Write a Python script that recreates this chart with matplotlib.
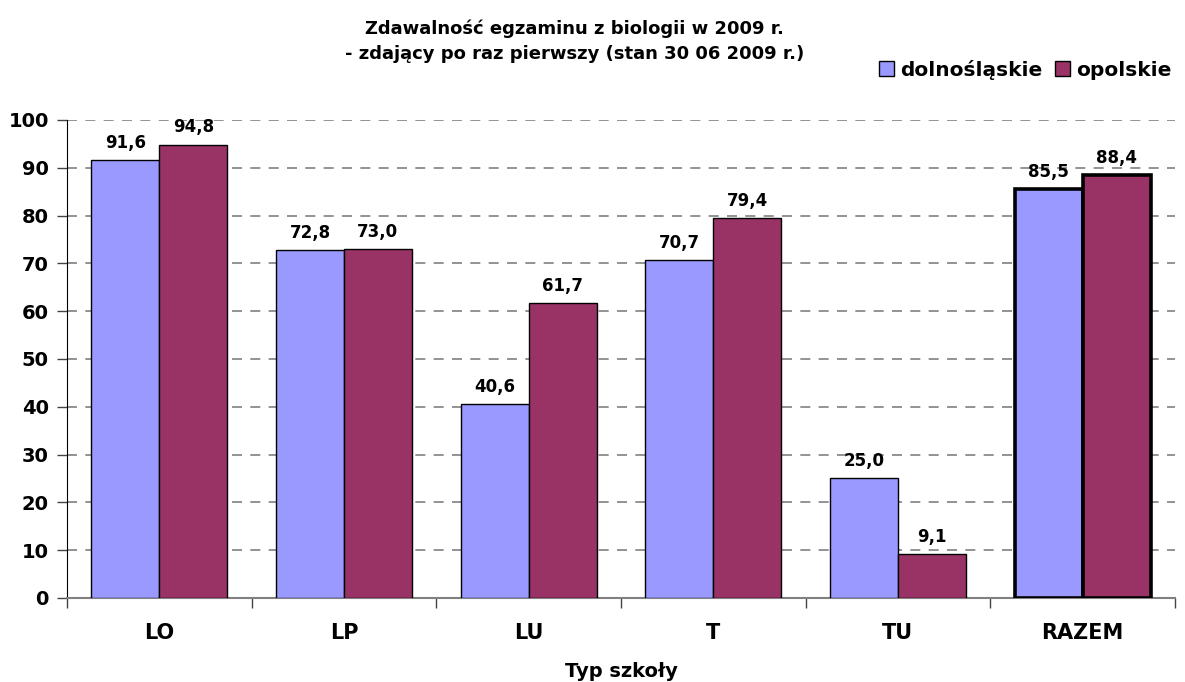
import numpy as np
import matplotlib.pyplot as plt

categories = ['LO', 'LP', 'LU', 'T', 'TU', 'RAZEM']
dolnoslaskie = [91.6, 72.8, 40.6, 70.7, 25.0, 85.5]
opolskie = [94.8, 73.0, 61.7, 79.4, 9.1, 88.4]
series_names = ['dolnośląskie', 'opolskie']

plt.rcParams['font.family'] = ['DejaVu Sans']
plt.rcParams['font.weight'] = 'bold'

fig = plt.figure(figsize=(11.85, 6.82), dpi=100)
ax = fig.add_axes([0.0565, 0.1232, 0.935, 0.7009])

x = np.arange(len(categories))
w = 0.368
blue = '#9999FF'
red = '#993366'

b1 = ax.bar(x - w/2, dolnoslaskie, w, color=blue, edgecolor='black', linewidth=1, zorder=3, label=series_names[0])
b2 = ax.bar(x + w/2, opolskie, w, color=red, edgecolor='black', linewidth=1, zorder=3, label=series_names[1])
# thicker outline on the summary group
b1[-1].set_linewidth(2.6)
b2[-1].set_linewidth(2.6)

for bars, vals in ((b1, dolnoslaskie), (b2, opolskie)):
    for b, v in zip(bars, vals):
        ax.annotate(f'{v:.1f}'.replace('.', ','), (b.get_x() + b.get_width()/2, v),
                    xytext=(0, 6), textcoords='offset points', ha='center', va='bottom',
                    fontsize=12, fontweight='bold', zorder=4)

ax.set_xlim(-0.5, len(categories) - 0.5)
ax.set_ylim(0, 100)
ax.set_yticks(np.arange(0, 101, 10))
ax.set_xticks(x)
ax.set_xticklabels(categories)
ax.set_xticks(np.arange(-0.5, len(categories)), minor=True)
ax.tick_params(axis='x', which='major', length=0, pad=18, labelsize=15)
ax.tick_params(axis='x', which='minor', length=7, width=1, color='#444444')
ax.tick_params(axis='y', length=7, width=1, labelsize=14, pad=6, color='#444444')

ax.grid(axis='y', color='#808080', linestyle=(0, (6, 5)), linewidth=1.2, zorder=0)
for s in ('top', 'right'):
    ax.spines[s].set_visible(False)
ax.spines['left'].set_color('black')
ax.spines['bottom'].set_color('#808080')
ax.spines['bottom'].set_linewidth(1.5)

ax.set_xlabel('Typ szkoły', fontsize=14, fontweight='bold', labelpad=14)

fig.text(0.485, 0.94, 'Zdawalność egzaminu z biologii w 2009 r.\n- zdający po raz pierwszy (stan 30 06 2009 r.)',
         ha='center', va='center', fontsize=13, fontweight='bold', linespacing=1.5)

ax.legend(loc='center right', bbox_to_anchor=(1.004, 1.105), ncol=2, frameon=False,
          fontsize=14.5, handlelength=0.75, handleheight=0.75, handletextpad=0.3,
          columnspacing=0.6, borderaxespad=0)

fig.savefig('out.png', dpi=100)
